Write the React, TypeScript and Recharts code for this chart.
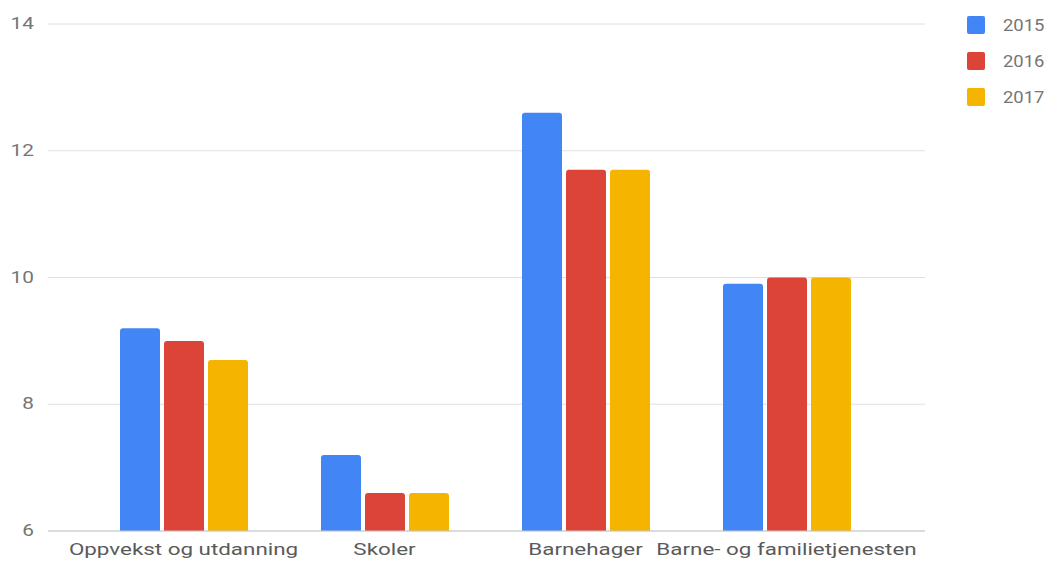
import { BarChart, Bar, CartesianGrid, XAxis, YAxis, Legend } from 'recharts';

const categories = ['Oppvekst og utdanning', 'Skoler', 'Barnehager', 'Barne- og familietjenesten'];
const values2015 = [9.2, 7.2, 12.6, 9.9];
const values2016 = [9.0, 6.6, 11.7, 10.0];
const values2017 = [8.7, 6.6, 11.7, 10.0];
const yTicks = [6, 8, 10, 12, 14];

const series = [
    { key: '2015', color: '#4285f4' },
    { key: '2016', color: '#db4437' },
    { key: '2017', color: '#f4b400' }
];

const data = categories.map((name, i) => ({
    name,
    '2015': values2015[i],
    '2016': values2016[i],
    '2017': values2017[i]
}));

const font = 'Roboto, "Noto Sans", sans-serif';

// the reference text looks stretched sideways, so the ticks are scaled a bit
const XTick = ({ x, y, payload }: any) => (
    <g transform={`translate(${x},${y})`}>
        <text transform="scale(1.4,1)" textAnchor="middle" dy={16} fill="#5a5a5a" fontSize={16} fontFamily={font}>
            {payload.value}
        </text>
    </g>
);

const YTick = ({ x, y, payload }: any) => (
    <g transform={`translate(${x},${y})`}>
        <text transform="scale(1.3,1)" textAnchor="end" dy={5} fill="#757575" fontSize={16} fontFamily={font}>
            {payload.value}
        </text>
    </g>
);

const LegendBox = () => (
    <div style={{ position: 'absolute', left: 967, top: 16, fontFamily: font }}>
        {series.map((s) => (
            <div key={s.key} style={{ display: 'flex', alignItems: 'center', height: 18, marginBottom: 18 }}>
                <div style={{ width: 18, height: 18, background: s.color, borderRadius: 2 }} />
                <span style={{ marginLeft: 18, fontSize: 16, color: '#757575', display: 'inline-block', transform: 'scaleX(1.15)', transformOrigin: 'left' }}>{s.key}</span>
            </div>
        ))}
    </div>
);

export default function App() {
    return (
        <div style={{ position: 'absolute', left: 0, top: 0, width: 1057, height: 563, background: '#fff' }}>
            <BarChart
                width={1057}
                height={563}
                data={data}
                margin={{ top: 24, right: 132, bottom: 0, left: 0 }}
                barCategoryGap={37}
                barGap={4}
            >
                <CartesianGrid vertical={false} stroke="#e0e0e0" />
                <XAxis
                    dataKey="name"
                    height={32}
                    padding={{ left: 35, right: 38 }}
                    tickLine={false}
                    axisLine={{ stroke: '#c8c8c8' }}
                    tick={<XTick />}
                    tickMargin={2}
                    interval={0}
                />
                <YAxis
                    width={48}
                    domain={[6, 14]}
                    ticks={yTicks}
                    tickLine={false}
                    axisLine={false}
                    tickMargin={8}
                    tick={<YTick />}
                />
                <Legend content={() => null} />
                {series.map((s) => (
                    <Bar key={s.key} dataKey={s.key} fill={s.color} radius={[3, 3, 0, 0]} isAnimationActive={false} />
                ))}
            </BarChart>
            <LegendBox />
        </div>
    );
}
